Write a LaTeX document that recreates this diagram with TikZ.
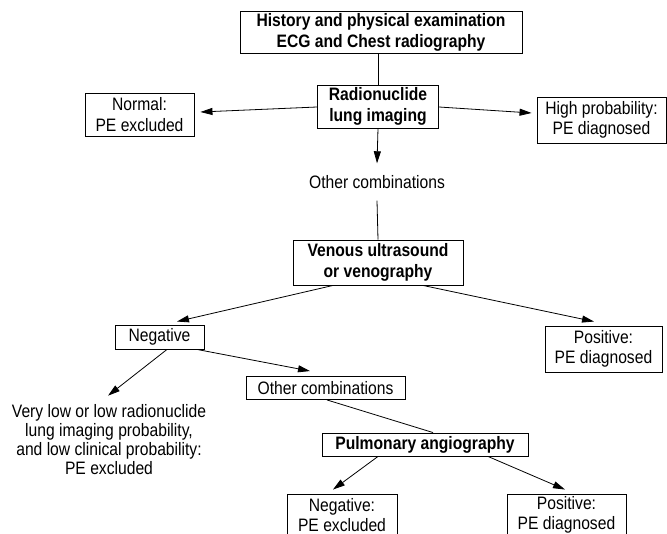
\documentclass[tikz,border=0pt]{standalone}
\usepackage{fontspec}
\setmainfont[FakeStretch=0.87]{Liberation Sans}
\usetikzlibrary{arrows.meta}
\tikzset{
  base/.style={font=\fontsize{18}{20.5}\selectfont, align=center, inner sep=0pt},
  box/.style={base, draw, line width=0.9pt, rectangle},
  boldbox/.style={box, font=\fontsize{18}{21}\selectfont\bfseries},
  plain/.style={base},
  conn/.style={line width=0.8pt},
  arr/.style={conn, -{Triangle[length=12pt,width=7pt]}}
}
\begin{document}
\begin{tikzpicture}[x=1pt,y=-1pt]
\useasboundingbox (0,0) rectangle (667,534);

\node[boldbox, minimum width=282pt, minimum height=42pt] (top) at (381,32)
  {History and physical examination\\ECG and Chest radiography};
\node[boldbox, minimum width=121pt, minimum height=43pt] (radio) at (378,106.5)
  {Radionuclide\\lung imaging};
\node[box, minimum width=109pt, minimum height=43pt] (normal) at (139.5,114.5)
  {Normal:\\PE excluded};
\node[box, minimum width=129pt, minimum height=46pt] (high) at (601.5,120)
  {High probability:\\PE diagnosed};
\node[plain, minimum height=37pt] (oc1) at (377,182) {Other combinations};
\node[boldbox, minimum width=170pt, minimum height=45pt] (venous) at (378,262.5)
  {Venous ultrasound\\or venography};
\node[box, minimum width=89pt, minimum height=24pt] (neg) at (159.5,337) {Negative};
\node[box, minimum width=117pt, minimum height=46pt] (pos) at (603.5,349)
  {Positive:\\PE diagnosed};
\node[plain, font=\fontsize{18}{19}\selectfont] (vlow) at (109,440)
  {Very low or low radionuclide\\lung imaging probability,\\and low clinical probability:\\PE excluded};
\node[box, minimum width=159pt, minimum height=23pt] (oc2) at (325.5,388) {Other combinations};
\node[boldbox, minimum width=206pt, minimum height=23pt] (pulm) at (425,444.5) {Pulmonary angiography};
\node[box, minimum width=110pt, minimum height=42pt] (neg2) at (342,515)
  {Negative:\\PE excluded};
\node[box, minimum width=119pt, minimum height=42pt] (pos2) at (566.5,515)
  {Positive:\\PE diagnosed};

\draw[conn] (radio.north |- top.south) -- (radio.north);
\draw[arr] ([yshift=-0.5pt]radio.west) -- ([xshift=6pt,yshift=2.5pt]normal.east);
\draw[arr] ([yshift=-0.5pt]radio.east) -- ([xshift=-5pt,yshift=7pt]high.west);
\draw[arr] (radio.south) -- (oc1.north);
\draw[conn] (oc1.south) -- (venous.north);
\draw[arr] ([xshift=-45pt]venous.south) -- ([xshift=17.5pt,yshift=3pt]neg.north);
\draw[arr] ([xshift=45pt]venous.south) -- ([xshift=-9.5pt,yshift=4pt]pos.north);
\draw[arr] ([xshift=7.5pt]neg.south) -- ([xshift=-1pt,yshift=9pt]vlow.north);
\draw[arr] ([xshift=37.5pt]neg.south) -- ([xshift=-15.5pt,yshift=5pt]oc2.north);
\draw[conn] ([xshift=1.5pt]oc2.south) -- ([xshift=8pt]pulm.north);
\draw[arr] ([xshift=-47pt]pulm.south) -- ([xshift=-9pt,yshift=4pt]neg2.north);
\draw[arr] ([xshift=63pt]pulm.south) -- ([xshift=-1.5pt,yshift=4pt]pos2.north);
\end{tikzpicture}
\end{document}
